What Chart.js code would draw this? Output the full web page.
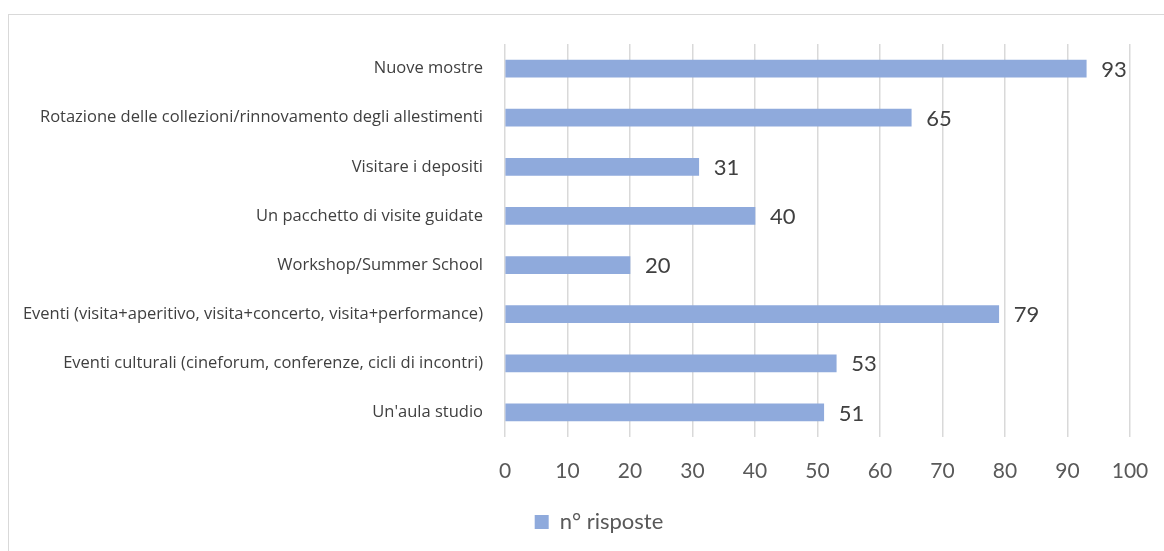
<!DOCTYPE html>
<html lang="it">
<head>
<meta charset="utf-8">
<script src="https://cdn.jsdelivr.net/npm/chart.js@4"></script>
<style>
    html, body { margin: 0; padding: 0; background: #ffffff; }
    #wrap { position: relative; width: 1164px; height: 551px; overflow: hidden; }
    #frame {
        position: absolute; left: 8px; top: 14px;
        width: 1170px; height: 560px;
        border: 1px solid #d9d9d9; box-sizing: border-box;
    }
    #chart { position: absolute; left: 0; top: 0; }
</style>
</head>
<body>
<div id="wrap">
    <div id="frame"></div>
    <canvas id="chart" width="1164" height="551"></canvas>
</div>
<script>
// Attività proposte e numero di risposte
const categorie = [
    'Nuove mostre',
    'Rotazione delle collezioni/rinnovamento degli allestimenti',
    'Visitare i depositi',
    'Un pacchetto di visite guidate',
    'Workshop/Summer School',
    'Eventi (visita+aperitivo, visita+concerto, visita+performance)',
    'Eventi culturali (cineforum, conferenze, cicli di incontri)',
    "Un'aula studio"
];
const risposte = [93, 65, 31, 40, 20, 79, 53, 51];
const etichettaSerie = 'n° risposte';
const asseMin = 0;
const asseMax = 100;
const passo = 10;

const FONT = 'Lato, "Open Sans", sans-serif';
const FONT_CAT = '"Open Sans", Lato, sans-serif';

// Scrive il valore accanto alla fine di ogni barra
const valoriBarre = {
    id: 'valoriBarre',
    afterDatasetsDraw(chart) {
        const ctx = chart.ctx;
        const meta = chart.getDatasetMeta(0);
        ctx.save();
        ctx.font = '22px ' + FONT;
        ctx.fillStyle = '#404040';
        ctx.textAlign = 'left';
        ctx.textBaseline = 'middle';
        meta.data.forEach((bar, i) => {
            ctx.fillText(String(risposte[i]), bar.x + 15, bar.y + 1);
        });
        ctx.restore();
    }
};

// Sposta la legenda un po' a destra, sotto l'area del grafico
const spostaLegenda = {
    id: 'spostaLegenda',
    afterLayout(chart) {
        if (chart.legend) {
            chart.legend.left += 34;
            chart.legend.right += 34;
        }
    }
};

new Chart(document.getElementById('chart').getContext('2d'), {
    type: 'bar',
    data: {
        labels: categorie,
        datasets: [{
            label: etichettaSerie,
            data: risposte,
            backgroundColor: '#8faadc',
            borderWidth: 0,
            barThickness: 17
        }]
    },
    options: {
        indexAxis: 'y',
        responsive: false,
        animation: false,
        layout: {
            padding: { top: 44, right: 34, bottom: 8, left: 0 }
        },
        scales: {
            x: {
                min: asseMin,
                max: asseMax,
                ticks: {
                    stepSize: passo,
                    color: '#595959',
                    font: { family: FONT, size: 21 },
                    padding: 22
                },
                grid: {
                    color: '#d9d9d9',
                    lineWidth: 1.5,
                    drawTicks: false
                },
                border: { display: false },
                afterFit(scale) {
                    scale.height = 64;
                    scale.paddingLeft = 0;
                    scale.paddingRight = 0;
                }
            },
            y: {
                ticks: {
                    color: '#404040',
                    font: { family: FONT_CAT, size: 16.5 },
                    padding: 22
                },
                grid: { display: false, drawTicks: false },
                border: { display: false },
                afterFit(scale) {
                    scale.width = 505;
                    scale.paddingTop = 0;
                    scale.paddingBottom = 0;
                }
            }
        },
        plugins: {
            legend: {
                position: 'bottom',
                labels: {
                    color: '#595959',
                    font: { family: FONT, size: 22 },
                    boxWidth: 14,
                    boxHeight: 14,
                    padding: 10
                }
            },
            tooltip: { enabled: false }
        }
    },
    plugins: [valoriBarre, spostaLegenda]
});
</script>
</body>
</html>
